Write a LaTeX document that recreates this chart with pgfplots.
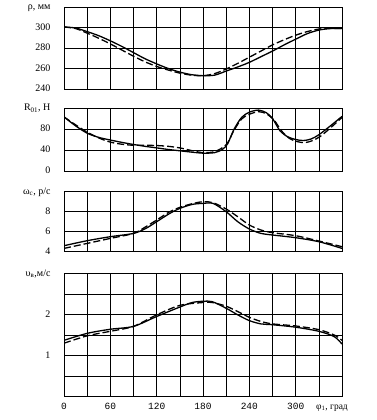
\documentclass[border=0pt]{standalone}
\usepackage{fontspec}
\setmainfont{Liberation Serif}
\newfontfamily\monofont{Liberation Mono}
\usepackage{pgfplots}
\pgfplotsset{compat=1.18}

\pgfplotsset{
  panel/.style={
    scale only axis, width=278pt,
    anchor=south west,
    xmin=0, xmax=360, xtick={0,30,...,360}, xticklabels={},
    grid=major, grid style={black, line width=0.6pt},
    axis line style={black, line width=0.8pt},
    major tick length=0pt,
    clip mode=individual,
    yticklabel style={font=\fontsize{10}{12}\selectfont, text height=1.6ex, text depth=0.4ex, xshift=-10pt},
    xticklabel style={font=\monofont\fontsize{9.5}{11}\selectfont, text height=1.6ex, text depth=0.4ex},
    /pgf/number format/assume math mode=true,
  },
  sol/.style={black, line width=1.3pt, smooth},
  das/.style={black, line width=1.3pt, smooth, dash pattern=on 7pt off 3pt},
}

\begin{document}
\begin{tikzpicture}[x=1pt,y=1pt]
\useasboundingbox (0,0) rectangle (377,-420);

% ---- rho ----
\begin{axis}[panel, at={(64pt,-89pt)}, height=82pt,
  ymin=240, ymax=320, ytick={240,260,280,300,320},
  yticklabels={240,260,280,300,{ρ, мм}}]
\addplot[sol] coordinates {(0,300.5) (15,299.5) (30,296) (45,292) (60,287) (75,281.5) (90,275.5) (105,269.5) (120,264.5) (135,260) (150,256.5) (165,254) (180,253) (195,253.5) (210,257.5) (225,261.5) (240,266) (255,271.5) (270,277) (285,283) (300,288.6) (315,294) (330,297.5) (345,299) (360,299)};
\addplot[das] coordinates {(0,300.5) (15,299) (30,294.5) (45,289.5) (60,284) (75,278) (90,272) (105,266.5) (120,262) (135,258.5) (150,255.5) (165,253.5) (180,253) (195,255) (210,259.5) (225,265) (240,271) (255,277) (270,283) (285,288) (300,292.5) (315,296) (330,298.5) (345,299) (360,299)};
\end{axis}

% ---- R01 ----
\begin{axis}[panel, at={(64pt,-171pt)}, height=63pt,
  ymin=0, ymax=120, ytick={0,40,80,120},
  yticklabels={0,40,80,{R\textsubscript{01}, Н}}]
\addplot[sol] coordinates {(0,103) (15,86) (30,72) (45,64) (60,59) (75,54.5) (90,50.5) (105,47) (120,44) (135,41) (150,38.5) (165,36) (180,34) (195,35) (205,41) (212,52) (220,79) (230,102) (240,112) (252,116) (262,111) (270,100) (280,76) (290,65) (300,60) (310,58) (320,61) (330,69) (345,86) (360,104)};
\addplot[das] coordinates {(0,103) (15,88) (30,74) (45,63) (60,55) (75,51) (90,49) (105,49) (120,48.5) (135,47) (150,44) (165,39) (180,35) (195,37) (210,50) (220,77) (230,99) (240,108) (252,113) (262,109) (272,97) (282,76) (292,62) (302,56) (312,54) (322,58) (332,66) (345,82) (360,102)};
\end{axis}

% ---- omega ----
\begin{axis}[panel, at={(64pt,-251.7pt)}, height=60pt,
  ymin=4, ymax=10, ytick={4,6,8,10},
  yticklabels={4,6,8,{ω\textsubscript{с}, р/с}}]
\addplot[sol] coordinates {(0,4.6) (30,5.1) (60,5.5) (90,5.83) (106,6.33) (120,7.0) (137,7.83) (150,8.33) (166,8.73) (180,8.83) (193,8.83) (210,8.0) (225,7.0) (240,6.27) (255,5.83) (270,5.67) (300,5.4) (330,5.0) (360,4.33)};
\addplot[das] coordinates {(0,4.33) (30,4.83) (60,5.33) (90,5.83) (106,6.5) (120,7.17) (137,8.0) (150,8.43) (166,8.8) (180,9.0) (193,8.9) (210,8.27) (225,7.5) (240,6.67) (255,6.17) (270,5.9) (300,5.6) (330,5.07) (360,4.5)};
\end{axis}

% ---- upsilon ----
\begin{axis}[panel, at={(64pt,-396.7pt)}, height=123.4pt,
  ymin=0, ymax=3, ytick={0,0.5,1,1.5,2,2.5,3},
  yticklabels={,,1,,2,,{υ\textsubscript{в},м/с}},
  xticklabels={0,,60,,120,,180,,240,,300,,},
  xticklabel style={yshift=-2pt}]
\addplot[sol] coordinates {(0,1.37) (30,1.54) (60,1.64) (90,1.71) (120,1.95) (150,2.18) (166,2.29) (180,2.32) (192,2.31) (210,2.15) (225,1.99) (240,1.85) (255,1.77) (270,1.75) (300,1.69) (330,1.59) (350,1.46) (360,1.28)};
\addplot[das] coordinates {(0,1.30) (30,1.48) (60,1.59) (90,1.71) (120,1.99) (150,2.22) (180,2.29) (192,2.29) (210,2.2) (225,2.07) (240,1.93) (255,1.83) (270,1.77) (300,1.72) (330,1.63) (350,1.5) (360,1.37)};
\node[anchor=north, font=\fontsize{9.5}{11}\selectfont, text height=1.6ex, text depth=0.4ex, yshift=-2pt, inner sep=0.333em] at (axis cs:347,0) {φ\textsubscript{1}, град};
\end{axis}
\end{tikzpicture}
\end{document}
